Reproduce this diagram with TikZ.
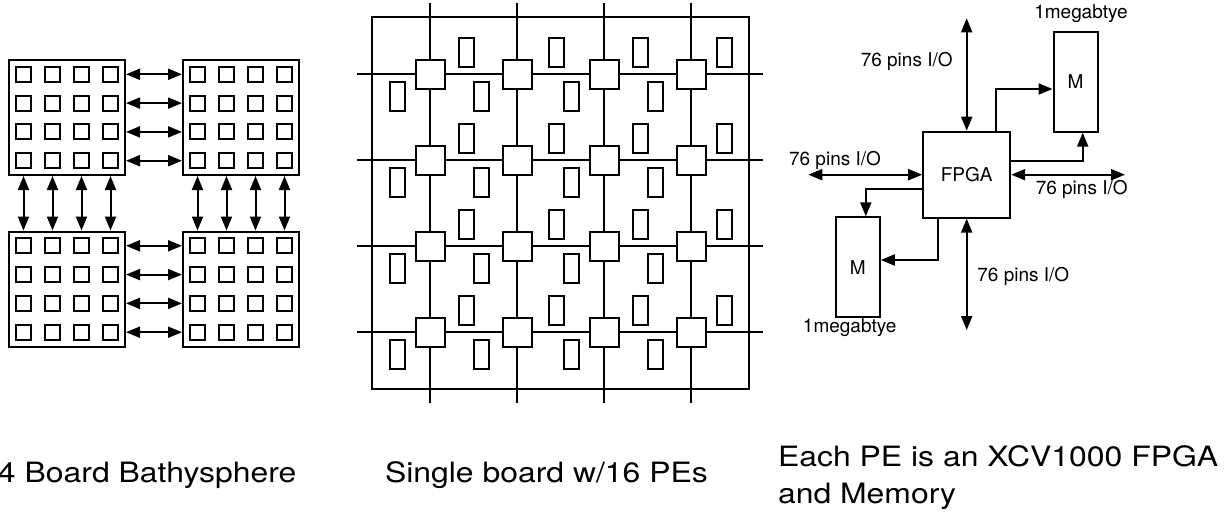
\documentclass[tikz,border=0pt]{standalone}
\usepackage{fontspec}
\setmainfont{TeX Gyre Heros}
\newfontfamily\capfont[FakeStretch=1.14]{TeX Gyre Heros}
\usetikzlibrary{arrows.meta}

\tikzset{
  board/.style={draw, minimum width=116pt, minimum height=115pt, inner sep=0pt},
  pe/.style={draw, minimum size=15pt, inner sep=0pt},
  sw/.style={draw, minimum size=29pt, inner sep=0pt},
  mem/.style={draw, minimum width=15pt, minimum height=29pt, inner sep=0pt},
  ram/.style={draw, minimum width=44pt, minimum height=100pt, inner sep=0pt, font=\fontsize{19}{23}\selectfont},
  lbl/.style={inner sep=0pt, font=\fontsize{19}{23}\selectfont},
  caption/.style={inner sep=0pt, anchor=base west, font=\capfont\fontsize{28}{36}\selectfont},
}

\begin{document}
\begin{tikzpicture}[x=1pt, y=-1pt, line width=2pt, >={Triangle[length=14pt,width=11pt]}]
    \useasboundingbox (0,0) rectangle (1229,514);

    % Four boards
    \node[board] (TL) at (67,117.5) {};
    \node[board] (TR) at (241,117.5) {};
    \node[board] (BL) at (67,289) {};
    \node[board] (BR) at (241,289) {};

    % PEs on each board
    \foreach \b in {TL,TR,BL,BR}
      \foreach \r in {1,...,4}
        \foreach \c in {1,...,4}
          \node[pe] (\b\r\c) at ([xshift={(\c-2.5)*29pt}, yshift={(2.5-\r)*28.8pt}]\b.center) {};

    % Links between boards
    \foreach \r in {1,...,4} {
      \draw[<->] (TL.east |- TL\r4) -- (TR.west |- TR\r1);
      \draw[<->] (BL.east |- BL\r4) -- (BR.west |- BR\r1);
    }
    \foreach \c in {1,...,4} {
      \draw[<->] (TL.south -| TL4\c) -- (BL.north -| BL1\c);
      \draw[<->] (TR.south -| TR4\c) -- (BR.north -| BR1\c);
    }

    % Single board: frame, switches and mesh
    \node[draw, minimum width=377.6pt, minimum height=372.3pt] (frame) at (560.5,202.9) {};
    \foreach \x [count=\c] in {430,517,604,691} {
      \coordinate (t\c) at (\x,3);
      \coordinate (b\c) at (\x,403);
      \foreach \y [count=\r] in {74.3,160.3,246.3,332.3}
        \node[sw] (s\r\c) at (\x,\y) {};
    }
    \foreach \y [count=\r] in {74.3,160.3,246.3,332.3} {
      \coordinate (l\r) at (357.3,\y);
      \coordinate (r\r) at (763.3,\y);
    }
    \foreach \c in {1,...,4}
      \draw (t\c) -- (s1\c) -- (s2\c) -- (s3\c) -- (s4\c) -- (b\c);
    \foreach \r in {1,...,4}
      \draw (l\r) -- (s\r1) -- (s\r2) -- (s\r3) -- (s\r4) -- (r\r);

    % Memories next to the switches
    \foreach \y [count=\r] in {74.3,160.3,246.3,332.3} {
      \foreach \x [count=\c] in {466,556,640,724}
        \node[mem] (mu\r\c) at (\x,{\y-22}) {};
      \foreach \x [count=\c] in {397,481,571,655}
        \node[mem] (ml\r\c) at (\x,{\y+22}) {};
    }

    % One PE
    \node[draw, minimum width=87pt, minimum height=86pt, inner sep=0pt, font=\fontsize{19}{23}\selectfont] (fpga) at (966.7,174.7) {FPGA};
    \node[ram] (mup) at (1075.5,81.7) {M};
    \node[ram] (mlo) at (857.8,267.3) {M};
    \node[lbl] (mupcap) at (1081,14) {1megabtye};
    \node[lbl] (mlocap) at (849.7,327.3) {1megabtye};

    \coordinate (ioN) at (966.7,18.3);
    \coordinate (ioS) at (966.7,330);
    \coordinate (ioW) at (808.3,174.7);
    \coordinate (ioE) at (1125,174.7);
    \draw[<->] (ioN) -- (fpga.north);
    \draw[<->] (fpga.south) -- (ioS);
    \draw[<->] (ioW) -- (fpga.west);
    \draw[<->] (fpga.east) -- (ioE);
    \node[lbl] (ioNcap) at (906.7,61) {76 pins I/O};
    \node[lbl] (ioWcap) at (835,160.7) {76 pins I/O};
    \node[lbl] (ioEcap) at (1081.7,189.3) {76 pins I/O};
    \node[lbl] (ioScap) at (1023.3,276) {76 pins I/O};

    \draw[->] ([xshift=29.3pt]fpga.north) |- ([yshift=-7.3pt]mup.west);
    \draw[->] ([yshift=14pt]fpga.east) -| ([xshift=7.2pt]mup.south);
    \draw[->] ([yshift=-14.3pt]fpga.west) -| ([xshift=8pt]mlo.north);
    \draw[->] ([xshift=-29pt]fpga.south) |- ([yshift=7.3pt]mlo.east);

    % Captions
    \node[caption] (capA) at (-3,482) {4 Board Bathysphere};
    \node[caption] (capB) at (384,482) {Single board w/16 PEs};
    \node[caption] (capC) at (777,466) {Each PE is an XCV1000 FPGA};
    \node[caption] (capD) at (777,503) {and Memory};
\end{tikzpicture}
\end{document}
